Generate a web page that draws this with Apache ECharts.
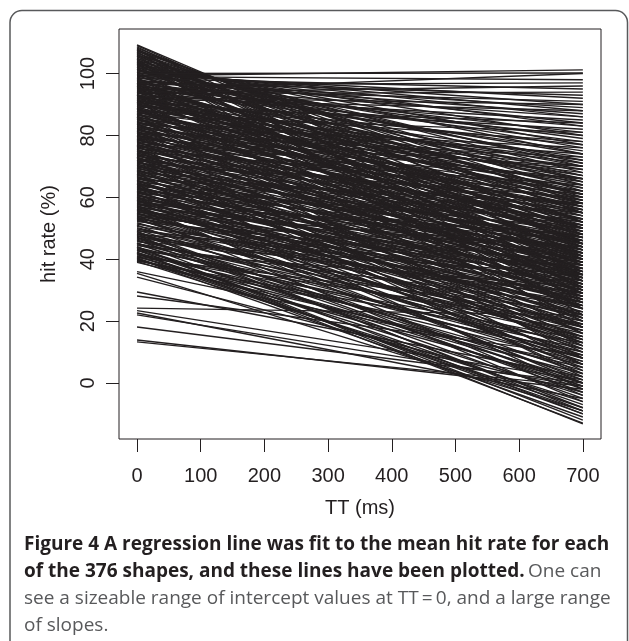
<!DOCTYPE html>
<html><head><meta charset="utf-8">
<script src="https://cdn.jsdelivr.net/npm/echarts@6/dist/echarts.min.js"></script>
<style>html,body{margin:0;padding:0;background:#fff;}#c{width:629px;height:641px;}</style>
</head><body><div id="c"></div>
<script>
// Hit rate (%) of each shape's regression line at TT = 0 ms and TT = 700 ms (376 shapes)
const hitAtTT0 = [
109.3,109.0,108.6,108.2,108.0,107.7,107.5,107.2,107.0,106.8,106.5,106.3,106.0,105.8,105.6,105.3,105.0,104.8,104.6,104.4,104.2,104.0,103.8,103.6,103.4,103.2,103.0,102.8,102.6,102.4,102.2,102.0,101.8,101.6,101.4,101.2,101.0,100.8,100.6,100.4,100.2,100.0,99.3,99.8,99.6,99.4,99.2,99.0,98.8,98.6,98.4,98.2,98.0,97.8,97.6,
97.4,97.2,97.0,96.8,96.6,96.4,96.2,96.0,95.8,95.6,95.4,95.2,95.0,94.8,94.5,94.3,94.1,93.9,93.7,93.5,93.3,93.1,92.9,92.7,92.5,92.3,92.1,91.9,91.7,91.5,91.3,91.1,90.9,90.7,90.5,90.3,90.1,97.5,96.9,96.1,95.3,94.6,93.8,93.0,92.2,91.4,90.6,97.1,95.9,94.9,94.0,93.2,92.4,91.6,90.8,
89.8,89.6,89.4,89.2,89.0,88.8,88.6,88.4,88.2,88.0,87.8,87.6,87.4,87.2,87.0,86.8,86.6,86.4,86.2,86.0,85.8,85.6,85.4,85.2,85.0,84.8,84.6,84.4,84.2,84.0,83.8,83.6,83.4,83.2,83.0,82.8,82.6,82.4,82.2,82.0,81.8,81.6,81.4,81.2,81.0,80.8,80.6,80.4,80.2,80.0,89.9,88.9,87.9,85.9,83.9,
79.8,79.6,79.4,79.2,79.0,78.8,78.6,78.4,78.2,78.0,77.8,77.6,77.4,77.2,77.0,76.8,76.6,76.4,76.2,76.0,75.8,75.6,75.4,75.2,75.0,74.8,74.6,74.4,74.2,74.0,73.8,73.6,73.4,73.2,73.0,72.8,72.6,72.4,72.2,72.0,71.8,71.6,71.4,71.2,71.0,70.8,70.6,70.4,70.2,70.0,79.9,78.9,76.9,74.9,72.9,
69.8,69.6,69.4,69.2,69.0,68.8,68.6,68.4,68.2,68.0,67.8,67.6,67.4,67.2,67.0,66.8,66.6,66.4,66.2,66.0,65.8,65.6,65.4,65.2,65.0,64.8,64.6,64.4,64.2,64.0,63.8,63.6,63.4,63.2,63.0,62.8,62.6,62.4,62.2,62.0,61.8,61.6,61.4,61.2,61.0,60.8,60.6,60.4,60.2,60.0,
59.8,59.6,59.4,59.2,59.0,58.8,58.6,58.4,58.2,58.0,57.8,57.6,57.4,57.2,57.0,56.8,56.6,56.4,56.2,56.0,55.8,55.6,55.4,55.2,55.0,54.8,54.6,54.4,54.2,54.0,53.8,53.6,53.4,53.2,53.0,52.6,52.2,51.8,51.4,51.0,50.6,50.2,57.9,55.9,52.9,
49.8,49.5,49.2,48.9,48.6,48.3,48.0,47.7,47.4,47.1,46.8,46.5,46.2,45.9,45.6,45.3,45.0,44.7,44.4,44.1,43.8,43.5,43.2,42.9,42.6,42.3,42.0,41.7,41.4,41.1,40.8,40.5,40.2,39.9,39.6,39.3,39.0,49.9,48.1,46.9,45.1,44.0,43.0,42.1,41.0,40.4,39.5,47.5,49.0,
36.0,34.2,29.4,28.1,24.2,23.4,22.6,22.0,18.1,13.9,13.3,35.4
];
const hitAtTT700 = [
48,45,40,52,30,55,36,58,22,44,60,33,62,50,26,65,41,68,18,55,70,47,35,74,59,29,77,64,52,80,38,71,83,57,45,86,67,88,24,76,90,100.2,101.2,61,92,49,84,98,72,34,95,56,79,43,89,
66,93,52,81,39,97,70,58,86,46,75,31,91,63,100,54,80,42,69,94,27,59,85,48,73,36,62,88,53,20,77,44,66,57,82,33,71,87,45,78,61,50,96,40,67,55,24,74,35,83,65,51,90,60,47,
55,72,38,84,61,46,29,67,52,78,41,58,16,70,49,35,63,81,44,56,25,68,50,39,74,60,32,47,65,54,21,43,76,57,37,62,48,28,69,53,40,59,12,45,66,34,51,73,42,57,64,31,50,8,70,
48,62,33,55,24,70,41,51,14,59,37,46,66,29,53,43,6,57,35,49,61,20,44,31,54,39,64,26,47,10,52,36,42,58,18,45,30,50,38,2,56,27,41,34,60,22,46,13,39,52,28,44,32,16,4,
43,25,35,51,11,40,30,47,19,55,36,3,42,28,49,15,38,23,45,33,58,8,40,26,47,18,36,31,-2,43,21,50,29,12,39,34,24,46,6,37,17,41,27,53,14,32,22,44,0,35,
30,13,40,22,5,35,26,46,9,31,18,38,-4,24,33,15,42,20,1,28,36,11,25,44,7,30,17,34,-6,23,39,14,27,3,32,19,37,10,25,-1,29,16,48,21,8,
26,6,33,-3,18,12,38,-8,22,2,29,9,-5,15,35,-10,20,4,25,-12,11,-1,17,-7,31,-13,7,-4,14,-9,3,23,-11,0,10,-6,5,15,0,-2,8,-13.2,1,-10,19,-8,13,28,-9,
6,-3,2,9,22,1,-5,-1,0,-2,-1,-9
];
const ttEnds = [0, 700];
const xTickValues = [0, 100, 200, 300, 400, 500, 600, 700];
const yTickValues = [0, 20, 40, 60, 80, 100];
const xTitle = 'TT (ms)';
const yTitle = 'hit rate (%)';
const captionBold1 = 'Figure 4 A regression line was fit to the mean hit rate for each';
const captionBold2 = 'of the 376 shapes, and these lines have been plotted.';
const captionReg2 = 'One can';
const captionReg3 = 'see a sizeable range of intercept values at TT\u2009=\u20090, and a large range';
const captionReg4 = 'of slopes.';

const ink = '#231f20';
const gray = '#58595b';
const axisFont = 'Liberation Sans';
const capFont = 'Open Sans';
const capSize = 19;

const series = hitAtTT0.map((v, i) => ({
  type: 'line',
  data: [[ttEnds[0], v], [ttEnds[1], hitAtTT700[i]]],
  symbol: 'none',
  silent: true,
  animation: false,
  lineStyle: { color: ink, width: 1.4 }
}));

const chart = echarts.init(document.getElementById('c'), null, { renderer: 'canvas' });
chart.setOption({
  animation: false,
  backgroundColor: '#fff',
  grid: { left: 119, right: 28, top: 29, bottom: 202, show: true, borderColor: ink, borderWidth: 1, backgroundColor: 'transparent' },
  xAxis: {
    type: 'value', min: -28.3, max: 728.5,
    axisLine: { show: false, onZero: false }, splitLine: { show: false },
    axisTick: { show: true, customValues: xTickValues, length: 13, lineStyle: { color: ink, width: 1 } },
    axisLabel: { customValues: xTickValues, fontFamily: axisFont, fontSize: 20, color: ink, margin: 27 },
    name: xTitle, nameLocation: 'middle', nameGap: 59,
    nameTextStyle: { fontFamily: axisFont, fontSize: 20, color: ink }
  },
  yAxis: {
    type: 'value', min: -18.1, max: 114.4,
    axisLine: { show: false, onZero: false }, splitLine: { show: false },
    axisTick: { show: true, customValues: yTickValues, length: 13, lineStyle: { color: ink, width: 1 } },
    axisLabel: { customValues: yTickValues, rotate: 90, fontFamily: axisFont, fontSize: 20, color: ink, margin: 21 },
    name: yTitle, nameLocation: 'middle', nameGap: 60, nameRotate: 90,
    nameTextStyle: { fontFamily: axisFont, fontSize: 20, color: ink }
  },
  series: series,
  graphic: [
    { type: 'rect', z: -10, silent: true, shape: { x: 10, y: 10.5, width: 617.5, height: 700, r: 12 },
      style: { fill: 'none', stroke: gray, lineWidth: 1.5 } },
    { type: 'text', silent: true, style: { x: 24, y: 545, text: captionBold1, fill: ink, font: 'bold ' + capSize + 'px "' + capFont + '"', verticalAlign: 'middle' } },
    { type: 'text', silent: true, style: { x: 24, y: 572,
        text: '{b|' + captionBold2 + '} {r|' + captionReg2 + '}',
        verticalAlign: 'middle',
        rich: {
          b: { fill: ink, fontWeight: 'bold', fontSize: capSize, fontFamily: capFont },
          r: { fill: gray, fontWeight: 'normal', fontSize: capSize, fontFamily: capFont }
        } } },
    { type: 'text', silent: true, style: { x: 24, y: 599, text: captionReg3, fill: gray, font: capSize + 'px "' + capFont + '"', verticalAlign: 'middle' } },
    { type: 'text', silent: true, style: { x: 24, y: 626, text: captionReg4, fill: gray, font: capSize + 'px "' + capFont + '"', verticalAlign: 'middle' } }
  ]
});
</script>
</body></html>
